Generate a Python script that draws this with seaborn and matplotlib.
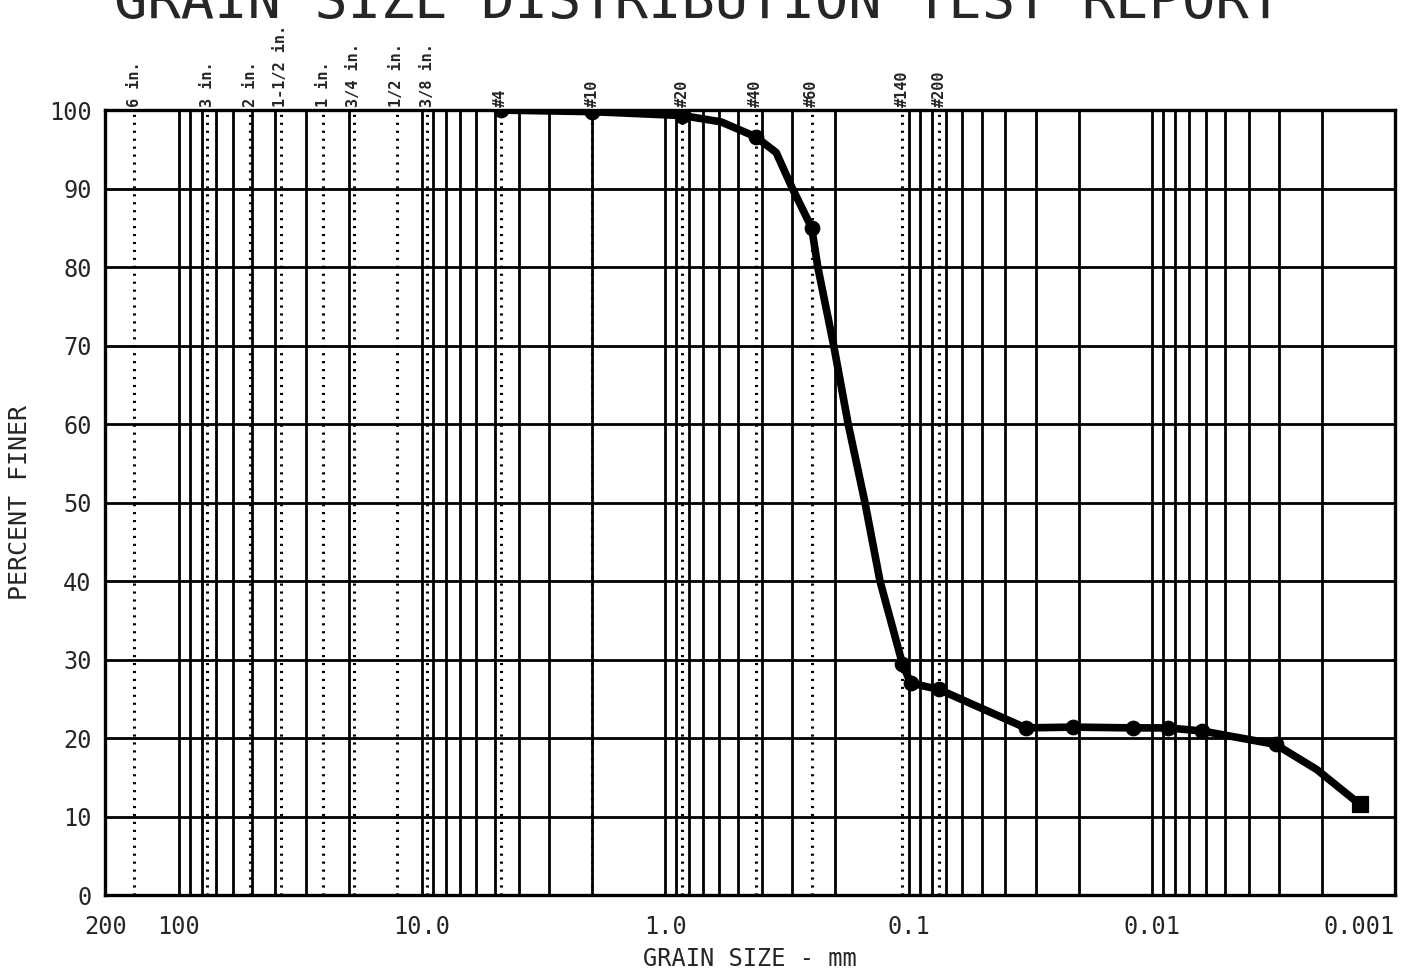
import matplotlib
matplotlib.use('Agg')
import matplotlib.pyplot as plt
import matplotlib.ticker as mticker
import matplotlib.transforms as mtransforms
import seaborn as sns
import pandas as pd

# sieve openings (mm) marked along the top of the chart
sieve_sizes = [152.4, 76.2, 50.8, 38.1, 25.4, 19.05, 12.7, 9.525,
               4.75, 2.0, 0.85, 0.425, 0.25, 0.106, 0.075]
sieve_labels = ['6 in.', '3 in.', '2 in.', '1-1/2 in.', '1 in.', '3/4 in.',
                '1/2 in.', '3/8 in.', '#4', '#10', '#20', '#40', '#60',
                '#140', '#200']

# measured points (sieve + hydrometer)
test_size = [4.75, 2.0, 0.85, 0.425, 0.25, 0.106, 0.098, 0.075,
             0.033, 0.021, 0.012, 0.0086, 0.0062, 0.0031]
test_finer = [100, 99.8, 99.3, 96.6, 85, 29.5, 27, 26.2,
              21.3, 21.4, 21.3, 21.3, 20.9, 19.2]
last_size = [0.0014]
last_finer = [11.6]

# fitted curve as drawn
curve_size = [4.75, 2.0, 0.85, 0.59, 0.425, 0.35, 0.30, 0.25, 0.236, 0.203,
              0.177, 0.151, 0.131, 0.106, 0.098, 0.075, 0.033, 0.021, 0.012,
              0.0086, 0.0062, 0.0031, 0.0021, 0.0014]
curve_finer = [100, 99.8, 99.3, 98.5, 96.6, 94.6, 90, 85, 80, 70,
               60, 50, 40, 29.5, 27, 26.2, 21.3, 21.4, 21.3,
               21.3, 20.9, 19.2, 16, 11.6]

x_ticks = [200, 100, 10, 1, 0.1, 0.01, 0.001]
x_ticklabels = ['200', '100', '10.0', '1.0', '0.1', '0.01', '0.001']
y_ticks = list(range(0, 101, 10))

curve = pd.DataFrame({'size': curve_size, 'finer': curve_finer})
pts = pd.DataFrame({'size': test_size, 'finer': test_finer})
last = pd.DataFrame({'size': last_size, 'finer': last_finer})

sns.set_style('white')
plt.rcParams['font.family'] = ['DejaVu Sans Mono', 'DejaVu Sans']

fig = plt.figure(figsize=(14.25, 9.74), dpi=100)
ax = fig.add_axes([0.074, 0.081, 0.905, 0.806])
ax.set_xscale('log')

# log grid: every 1..9 x 10^n between 200 and 0.001
grid_x = [m * 10.0 ** e for e in range(-3, 3) for m in range(1, 10)
          if 0.001 <= m * 10.0 ** e <= 200]
for gx in grid_x:
    ax.axvline(gx, color='black', lw=2.0, zorder=1)
for gy in y_ticks:
    ax.axhline(gy, color='black', lw=2.0, zorder=1)

# sieve lines (dotted)
for s in sieve_sizes:
    ax.axvline(s, color='black', lw=2.2, ls=(0, (0.7, 1.9)), zorder=1)

sns.lineplot(data=curve, x='size', y='finer', sort=False, color='black',
             lw=5.5, ax=ax, zorder=3)
sns.scatterplot(data=pts, x='size', y='finer', color='black', s=110,
                marker='o', edgecolor='black', ax=ax, zorder=4)
sns.scatterplot(data=last, x='size', y='finer', color='black', s=120,
                marker='s', edgecolor='black', ax=ax, zorder=4)

ax.set_xlim(200, 0.001)
ax.set_ylim(0, 100)
ax.xaxis.set_major_locator(mticker.FixedLocator(x_ticks))
ax.xaxis.set_major_formatter(mticker.FixedFormatter(x_ticklabels))
ax.xaxis.set_minor_locator(mticker.NullLocator())
ax.set_yticks(y_ticks)
ax.tick_params(axis='both', length=0, labelsize=17)
ax.tick_params(axis='x', pad=14)
ax.tick_params(axis='y', pad=10)
ax.xaxis.get_major_ticks()[-1].label1.set_horizontalalignment('right')

for sp in ax.spines.values():
    sp.set_color('black')
    sp.set_linewidth(2.4)

ax.set_xlabel('GRAIN SIZE - mm', fontsize=17, labelpad=6)
ax.set_ylabel('PERCENT FINER', fontsize=18, labelpad=12)

# sieve names above the plot
trans = mtransforms.blended_transform_factory(ax.transData, ax.transAxes)
for s, lab in zip(sieve_sizes, sieve_labels):
    ax.text(s, 1.004, lab, transform=trans, rotation=90, ha='center',
            va='bottom', fontsize=11, fontweight='bold')

# title, cut off by the top edge like the scan
fig.text(0.49, 0.9815, 'GRAIN SIZE DISTRIBUTION TEST REPORT', ha='center',
         va='baseline', fontsize=40)

fig.savefig('out.png', dpi=100)
